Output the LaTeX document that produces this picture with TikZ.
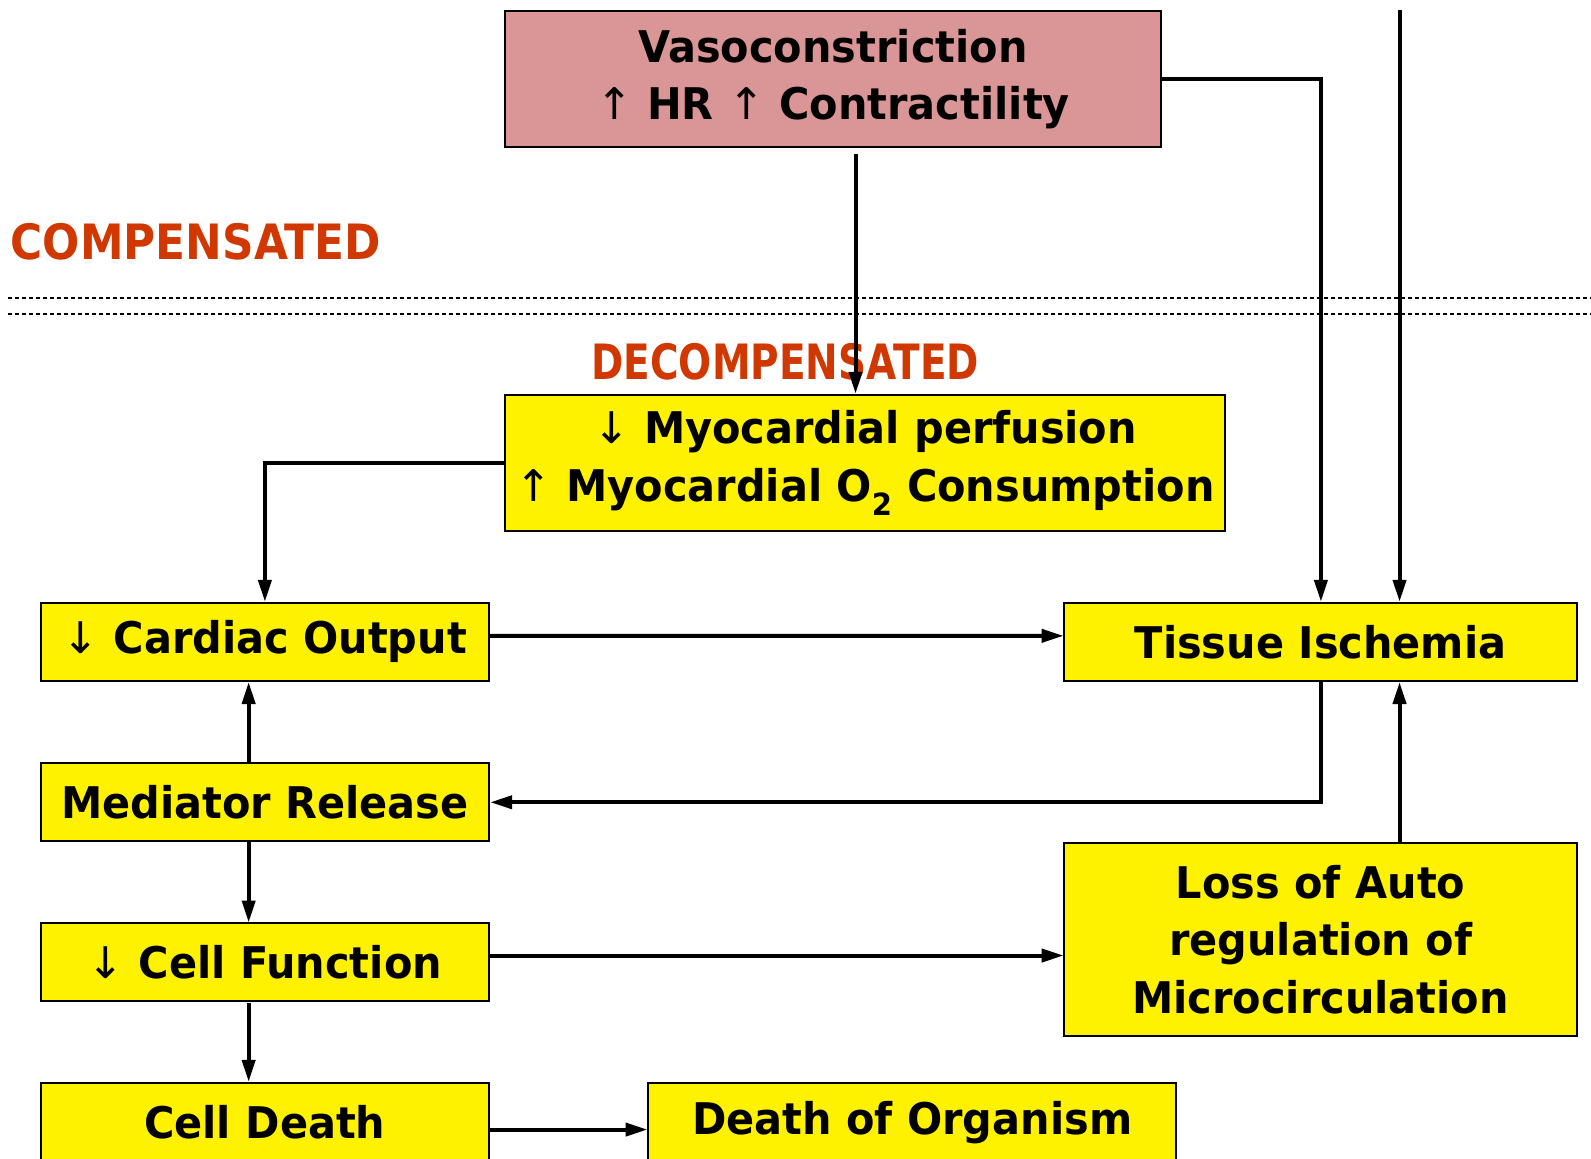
\documentclass[tikz,border=0pt]{standalone}
\usepackage{fontspec}
\setmainfont{DejaVu Sans}[FakeStretch=0.95]
\newfontfamily\arrfont{DejaVu Sans}
\newfontfamily\lblfontA{DejaVu Sans}[FakeStretch=0.9]
\newfontfamily\lblfontB{DejaVu Sans}[FakeStretch=0.8]
\usetikzlibrary{arrows.meta}
\definecolor{pinkbox}{RGB}{218,150,150}
\definecolor{redtxt}{RGB}{208,56,0}
\newcommand{\uparr}{{\arrfont\mdseries ↑}}
\newcommand{\dnarr}{{\arrfont\mdseries ↓}}
\begin{document}
\begin{tikzpicture}[x=1pt,y=-1pt, scale=1.0147,
  every node/.append style={transform shape},
  bx/.style={draw=black, line width=2pt, fill=yellow, anchor=north west,
    align=center, inner sep=0pt,
    font=\fontsize{43}{57}\selectfont\bfseries},
  conn/.style={line width=4pt, -{Triangle[length=22pt,width=13pt]}},
  sectlbl/.style={text=redtxt, inner sep=0pt},
  sepline/.style={line width=2pt, dash pattern=on 4pt off 3pt}
]
\useasboundingbox (0,0) rectangle (1568,1142.2);
\clip (0,0) rectangle (1568,1142.2);

% boxes
\node[bx, fill=pinkbox, minimum width=646, minimum height=134] (vaso) at (497,10)
  {Vasoconstriction\\\uparr\ HR \uparr\ Contractility};
\node[bx, minimum width=709, minimum height=134] (myo) at (497,388)
  {\dnarr\ Myocardial perfusion\\\uparr\ Myocardial O\textsubscript{2} Consumption};
\node[bx, minimum width=442, minimum height=77] (co) at (39,593) {\dnarr\ Cardiac Output};
\node[bx, minimum width=505, minimum height=77] (ti) at (1048,593) {Tissue Ischemia};
\node[bx, minimum width=442, minimum height=77] (mr) at (39,751) {Mediator Release};
\node[bx, minimum width=442, minimum height=77] (cf) at (39,909) {\dnarr\ Cell Function};
\node[bx, minimum width=505, minimum height=190] (loss) at (1048,830)
  {Loss of Auto\\regulation of\\Microcirculation};
\node[bx, minimum width=442, minimum height=96] (cd) at (39,1066)
  {\raisebox{9pt}[\height][\depth]{Cell Death}};
\node[bx, minimum width=520, minimum height=96] (do) at (638,1066)
  {\raisebox{9pt}[\height][\depth]{Death of Organism}};

% section labels
\node[sectlbl, font=\lblfontA\fontsize{48}{50}\selectfont\bfseries] (comp) at (193,238) {COMPENSATED};
\node[sectlbl, font=\lblfontB\fontsize{48}{50}\selectfont\bfseries] (decomp) at (774,357) {DECOMPENSATED};

% separator
\coordinate (s1a) at (8,294); \coordinate (s1b) at (1568,294);
\coordinate (s2a) at (8,309); \coordinate (s2b) at (1568,309);
\draw[sepline] (s1a) -- (s1b);
\draw[sepline] (s2a) -- (s2b);

% connectors
\coordinate (v1) at (843,152);
\draw[conn] (v1) -- (v1 |- myo.north);
\draw[conn] (vaso.east) -| (ti.north);
\coordinate (t0) at (1379,10);
\draw[conn] (t0) -- (t0 |- ti.north);
\draw[conn] (myo.west) -| (co.north);
\draw[conn] ([yshift=6pt]co.east) -- ([yshift=6pt]ti.west);
\draw[conn] ([xshift=-16pt]mr.north) -- ([xshift=-16pt]co.south);
\draw[conn] (ti.south) |- (mr.east);
\draw[conn] ([xshift=-16pt]mr.south) -- ([xshift=-16pt]cf.north);
\draw[conn] ([yshift=7pt]cf.east) -- ([yshift=7pt]cf.east -| loss.west);
\draw[conn] (loss.north -| t0) -- (ti.south -| t0);
\draw[conn] ([xshift=-16pt]cf.south) -- ([xshift=-16pt]cd.north);
\draw[conn] ([yshift=2pt]cd.east) -- ([yshift=2pt]cd.east -| do.west);
\end{tikzpicture}
\end{document}
